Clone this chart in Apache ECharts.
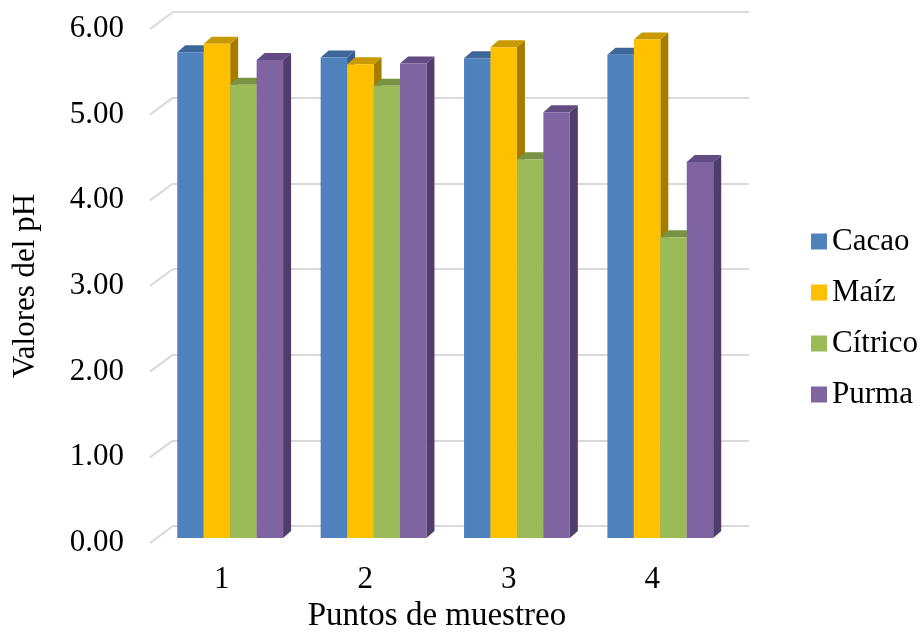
<!DOCTYPE html>
<html><head><meta charset="utf-8">
<script src="https://cdn.jsdelivr.net/npm/echarts@6/dist/echarts.min.js"></script>
<style>html,body{margin:0;padding:0;background:#fff}#c{width:921px;height:633px}</style>
</head><body><div id="c"></div>
<script>
const categories = ['1','2','3','4'];
const seriesNames = ['Cacao','Maíz','Cítrico','Purma'];
const cacao   = [5.67, 5.61, 5.60, 5.64];
const maiz    = [5.77, 5.53, 5.73, 5.82];
const citrico = [5.29, 5.28, 4.42, 3.51];
const purma   = [5.58, 5.54, 4.97, 4.39];
const yTicks  = [0, 1, 2, 3, 4, 5, 6];

const palette = [
  {front:'#4f81bd', top:'#3d6799', side:'#385d8a'},
  {front:'#ffc000', top:'#c99a00', side:'#a47d00'},
  {front:'#9bbb59', top:'#789343', side:'#6f893f'},
  {front:'#8064a2', top:'#634b83', side:'#4f3e6b'}
];
const allData = [cacao, maiz, citrico, purma];
const FONT = 'Liberation Serif';
const FS = 31;
const DX = 8, DY = -7;

function barRenderer(idx){
  const col = palette[idx];
  return function(params, api){
    const cat = api.value(0), v = api.value(1);
    const c = api.coord([cat, v]);
    const b = api.coord([cat, 0]);
    const band = api.size([1, 0])[0];
    const w = band * 0.1845;
    const x0 = c[0] - 2*w + idx*w, x1 = x0 + w;
    return {type:'group', children:[
      {type:'polygon', shape:{points:[[x1,c[1]],[x1+DX,c[1]+DY],[x1+DX,b[1]+DY],[x1,b[1]]]}, style:{fill:col.side}},
      {type:'polygon', shape:{points:[[x0,c[1]],[x0+DX,c[1]+DY],[x1+DX,c[1]+DY],[x1,c[1]]]}, style:{fill:col.top}},
      {type:'rect', shape:{x:x0, y:c[1], width:w, height:b[1]-c[1]}, style:{fill:col.front}}
    ]};
  };
}

const barSeries = seriesNames.map((name, i) => ({
  name: name, type:'custom', xAxisIndex:2, yAxisIndex:2,
  itemStyle:{color: palette[i].front},
  renderItem: barRenderer(i),
  data: allData[i].map((v, k) => [k, v]),
  z: 5
}));

const option = {
  animation:false,
  backgroundColor:'#fff',
  textStyle:{fontFamily:FONT},
  grid:[
    {left:173, right:172, top:12, bottom:107, outerBoundsMode:'none', containLabel:false},   // back wall
    {left:150, right:197, top:29, bottom:90, outerBoundsMode:'none', containLabel:false},    // front labels
    {left:158.5, right:189, top:24, bottom:95, outerBoundsMode:'none', containLabel:false}   // bars
  ],
  xAxis:[
    {gridIndex:0, type:'value', min:0, max:1, show:false},
    {gridIndex:1, type:'category', data:categories,
     axisLine:{show:false}, axisTick:{show:false},
     axisLabel:{fontFamily:FONT, fontSize:FS, color:'#000', margin:21},
     name:'Puntos de muestreo', nameLocation:'middle', nameGap:52,
     nameTextStyle:{fontFamily:FONT, fontSize:33, color:'#000'}},
    {gridIndex:2, type:'category', data:categories, show:false}
  ],
  yAxis:[
    {gridIndex:0, type:'value', min:0, max:6, interval:1,
     axisLine:{show:false}, axisTick:{show:false}, axisLabel:{show:false},
     splitLine:{show:true, lineStyle:{color:'#d9d9d9', width:2}}},
    {gridIndex:1, type:'value', min:0, max:6, interval:1,
     axisLine:{show:false}, axisTick:{show:false}, splitLine:{show:false},
     axisLabel:{fontFamily:FONT, fontSize:FS, color:'#000', margin:26, padding:[6,0,0,0],
                formatter:v => v.toFixed(2)},
     name:'Valores del pH', nameLocation:'middle', nameGap:109, nameRotate:90,
     nameTextStyle:{fontFamily:FONT, fontSize:FS, color:'#000'}},
    {gridIndex:2, type:'value', min:0, max:6, show:false}
  ],
  legend:{
    data: seriesNames, orient:'vertical', left:806, top:221,
    icon:'rect', itemWidth:16, itemHeight:16, itemGap:20,
    textStyle:{fontFamily:FONT, fontSize:FS, color:'#000', lineHeight:31}
  },
  series:[
    {type:'custom', xAxisIndex:0, yAxisIndex:0, silent:true, z:1,
     data: yTicks.map(t => [0, t]),
     renderItem:function(params, api){
       const p = api.coord([0, api.value(1)]);
       return {type:'line', shape:{x1:p[0], y1:p[1], x2:p[0]-23, y2:p[1]+17},
               style:{stroke:'#d9d9d9', lineWidth:2}};
     }}
  ].concat(barSeries)
};
echarts.init(document.getElementById('c')).setOption(option);
</script></body></html>
